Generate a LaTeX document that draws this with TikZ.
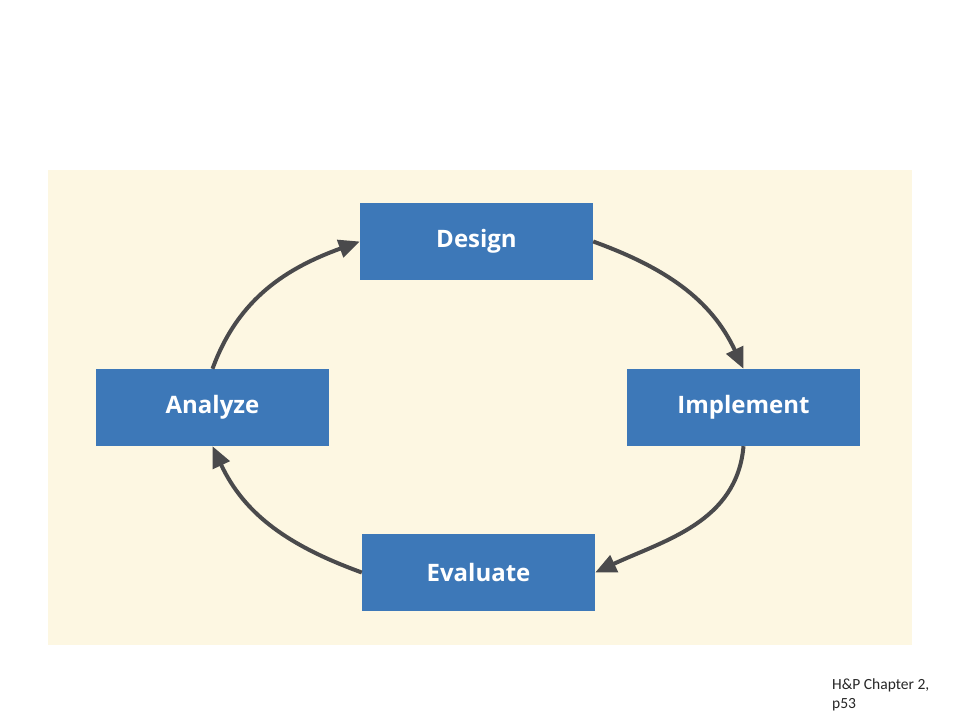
\documentclass[tikz,border=0pt]{standalone}
\usepackage{fontspec}
\setmainfont{Open Sans}
\newfontfamily\footfont{Carlito}
\usetikzlibrary{arrows.meta}
\definecolor{panel}{HTML}{FDF7E2}
\definecolor{boxblue}{HTML}{3D78B8}
\definecolor{arrowgray}{HTML}{4A4A4C}
\begin{document}
\begin{tikzpicture}[x=1pt,y=1pt,
  stagebox/.style={fill=boxblue,draw=none,minimum width=233pt,minimum height=77pt,inner sep=0pt,
    text=white,font=\fontsize{24}{28}\selectfont\bfseries},
  cyc/.style={draw=arrowgray,line width=4pt,-{Triangle[length=21pt,width=18pt]}}]
\useasboundingbox (0,0) rectangle (960,720);
\fill[white] (0,0) rectangle (960,720);
\fill[panel] (48,75) rectangle (912,550);
\node[stagebox] (D) at (476.5,478.5) {Design};
\node[stagebox] (I) at (743.5,312.5) {Implement};
\node[stagebox] (A) at (212.5,312.5) {Analyze};
\node[stagebox] (E) at (478.5,147.5) {Evaluate};
\draw[cyc] (D.east) to[out=-20,in=115] (I.north);
\draw[cyc] (I.south) to[out=-95,in=25] (E.east);
\draw[cyc] (E.west) to[out=160,in=-65] (A.south);
\draw[cyc] (A.north) to[out=70,in=200] (D.west);
\node[anchor=north west,align=left,inner sep=0pt,font=\footfont\fontsize{15.5}{19}\selectfont,text=black!85] (F) at (832,41) {H\&P Chapter 2,\\p53};
\end{tikzpicture}
\end{document}
